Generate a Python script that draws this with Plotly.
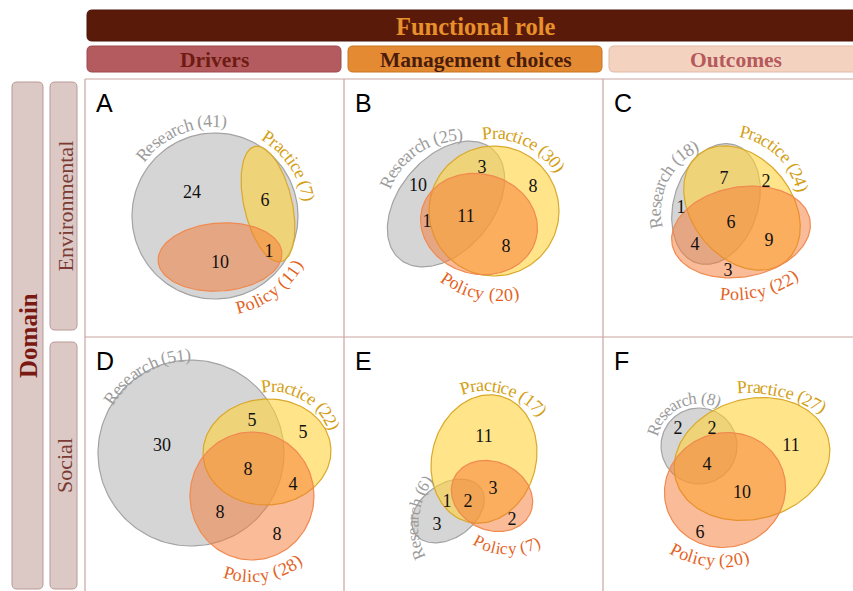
import numpy as np
import plotly.graph_objects as go

# ---------------- DATA ----------------
panel_letters = ["A", "B", "C", "D", "E", "F"]
row_labels = ["Environmental", "Social"]
col_labels = ["Drivers", "Management choices", "Outcomes"]
set_names = ["Research", "Practice", "Policy"]

research_totals = [41, 25, 18, 51, 6, 8]
practice_totals = [7, 30, 24, 22, 17, 27]
policy_totals = [11, 20, 22, 28, 7, 20]

# region order: R only, P only, Pol only, R&P, R&Pol, P&Pol, R&P&Pol
region_keys = ["R", "P", "Pol", "RP", "RPol", "PPol", "RPPol"]
counts_A = [24, None, None, 6, 10, None, 1]
counts_B = [10, 8, None, 3, 1, 8, 11]
counts_C = [1, 2, 3, 7, 4, 9, 6]
counts_D = [30, 5, 8, 5, 8, 4, 8]
counts_E = [3, 11, 2, 1, None, 3, 2]
counts_F = [2, 11, 6, 2, None, 10, 4]
counts = [counts_A, counts_B, counts_C, counts_D, counts_E, counts_F]

# ---------------- GEOMETRY / STYLE (layout only) ----------------
W, H = 853, 591
# ellipses: (cx, cy, a, b, phi_deg) for Research, Practice, Policy
ellipses = [
    [(215, 216, 83, 83, 0), (268, 204, 59, 24, 77), (220, 257, 62, 34, -4)],
    [(446, 204, 72, 47, -50), (494, 211, 65, 65, 0), (479, 224, 59, 50, 15)],
    [(716, 204, 62, 42, -72), (742, 208, 69, 50, 51), (741, 232, 70, 45, -10)],
    [(191, 453, 93, 93, 0), (267, 452, 64, 53, -3), (252, 496, 62, 64, 0)],
    [(448, 511, 40, 27, -35), (484, 459, 65, 52, -75), (492, 496, 42, 34, 25)],
    [(699, 446, 38, 38, 0), (752, 459, 79, 60, -15), (725, 490, 61, 57, -20)],
]
count_pos = [
    {"R": (192, 193), "RP": (265, 201), "RPPol": (269, 252), "RPol": (220, 263)},
    {"R": (418, 186), "RP": (482, 168), "P": (533, 187), "RPol": (427, 222),
     "RPPol": (466, 217), "PPol": (506, 247)},
    {"RP": (724, 179), "P": (766, 182), "R": (681, 208), "RPPol": (731, 223),
     "PPol": (769, 241), "RPol": (695, 245), "Pol": (728, 271)},
    {"R": (162, 446), "RP": (252, 421), "P": (303, 433), "RPPol": (248, 470),
     "PPol": (293, 485), "RPol": (220, 513), "Pol": (277, 535)},
    {"P": (484, 437), "PPol": (493, 489), "RP": (447, 502), "RPPol": (468, 502),
     "R": (437, 525), "Pol": (512, 520)},
    {"R": (678, 429), "RP": (712, 429), "P": (791, 446), "RPPol": (707, 465),
     "PPol": (742, 493), "Pol": (700, 533)},
]
# arc labels: (cx, cy, r, mid_angle_deg, direction, font_size) for Research, Practice, Policy
arcs = [
    [(215, 216, 95, -113, 1, 18), (215, 216, 95, -34, 1, 18), (215, 216, 95, 53, -1, 18)],
    [(460, 215, 80, -124, 1, 18), (494, 211, 78, -65, 1, 18), (500, 200, 95, 103, -1, 18)],
    [(725, 210, 70, 206, 1, 18), (727, 207, 77, -46, 1, 18), (735, 190, 104, 76, -1, 18)],
    [(192, 453, 98, -120, 1, 18), (273, 451, 65, -60, 1, 18), (251, 496, 80, 81, -1, 18)],
    [(489, 525, 76, 186, 1, 17), (484, 459, 74, -73, 1, 18), (509, 485, 64, 92, -1, 17)],
    [(699, 446, 48, -115, 1, 17), (750, 521, 134, -76, 1, 18), (721, 463, 98, 97, -1, 18)],
]
panel_origin = [(85, 79), (344, 79), (603, 79), (85, 337), (344, 337), (603, 337)]

fills = ["rgba(190,190,190,0.65)", "rgba(255,210,60,0.6)", "rgba(245,120,50,0.5)"]
lines = ["#A3A3A3", "#D9A92A", "#F08A50"]
label_colors = ["#9C9C9C", "#D49E12", "#E4621E"]
SERIF = "Liberation Serif"

# Times widths (1/1000 em)
CW = {'R': 667, 'e': 444, 's': 389, 'a': 444, 'r': 333, 'c': 444, 'h': 500, 'P': 556,
      't': 278, 'i': 278, 'o': 500, 'l': 278, 'y': 500, ' ': 250, '(': 333, ')': 333}


def cw(ch):
    return 500 if ch.isdigit() else CW.get(ch, 500)


def ellipse_xy(cx, cy, a, b, phi, n=160):
    t = np.linspace(0, 2 * np.pi, n)
    p = np.radians(phi)
    x = cx + a * np.cos(t) * np.cos(p) - b * np.sin(t) * np.sin(p)
    y = cy + a * np.cos(t) * np.sin(p) + b * np.sin(t) * np.cos(p)
    return x, y


def arc_text(text, cx, cy, r, mid, d, fs, color):
    anns = []
    widths = [cw(ch) * fs / 1000.0 for ch in text]
    total = sum(widths)
    s = -total / 2.0
    for ch, w in zip(text, widths):
        sc = s + w / 2.0
        th = np.radians(mid) + d * sc / r
        x = cx + r * np.cos(th)
        y = cy + r * np.sin(th)
        ang = np.degrees(th) + (90 if d > 0 else -90)
        ang = (ang + 180) % 360 - 180
        s += w
        if ch == " ":
            continue
        anns.append(dict(x=x, y=y, xref="x", yref="y", text=ch, showarrow=False,
                         textangle=ang, xanchor="center", yanchor="middle",
                         font=dict(family=SERIF, size=fs, color=color)))
    return anns


def rrect(x0, y0, x1, y1, r):
    return (f"M{x0+r},{y0} L{x1-r},{y0} Q{x1},{y0} {x1},{y0+r} L{x1},{y1-r} "
            f"Q{x1},{y1} {x1-r},{y1} L{x0+r},{y1} Q{x0},{y1} {x0},{y1-r} "
            f"L{x0},{y0+r} Q{x0},{y0} {x0+r},{y0} Z")


fig = go.Figure()
annotations = []
shapes = []

# grid lines
grid_col = "#C9A5A1"
for (x0, y0, x1, y1) in [(85, 79, 853, 79), (85, 337, 853, 337), (85, 79, 85, 591),
                         (344, 79, 344, 591), (603, 79, 603, 591)]:
    shapes.append(dict(type="line", x0=x0, y0=y0, x1=x1, y1=y1, xref="x", yref="y",
                       line=dict(color=grid_col, width=1.2)))

# header bars: (box, fill, border, text, text colour, font size, text x)
bars = [
    ((87, 10, 862, 41), "#5A1A0A", "#4A1408", "Functional role", "#E8902A", 24.5, 476),
    ((87, 46, 341, 72), "#B45B5F", "#9C4A4E", col_labels[0], "#6E1B12", 21.5, 214),
    ((348, 46, 602, 72), "#E48A32", "#C87424", col_labels[1], "#4A1C0C", 21.5, 476),
    ((609, 46, 862, 72), "#F3D3C0", "#E3B9A3", col_labels[2], "#B5595C", 21.5, 736),
]
for (x0, y0, x1, y1), fc, lc, txt, tc, fs, tx in bars:
    shapes.append(dict(type="path", path=rrect(x0, y0, x1, y1, 5), xref="x", yref="y",
                       fillcolor=fc, line=dict(color=lc, width=1), layer="below"))
    annotations.append(dict(x=tx, y=(y0 + y1) / 2 + 1, xref="x", yref="y", text=f"<b>{txt}</b>",
                            showarrow=False, font=dict(family=SERIF, size=fs, color=tc)))

# left bars
left = [
    ((12, 82, 43, 589), "<b>Domain</b>", "#7A1812", 25),
    ((50, 82, 77, 330), row_labels[0], "#7B3B33", 22),
    ((50, 342, 77, 589), row_labels[1], "#7B3B33", 22),
]
for (x0, y0, x1, y1), txt, tc, fs in left:
    shapes.append(dict(type="path", path=rrect(x0, y0, x1, y1, 5), xref="x", yref="y",
                       fillcolor="#DCC9C6", line=dict(color="#B89A97", width=1), layer="below"))
    annotations.append(dict(x=(x0 + x1) / 2 + 1, y=(y0 + y1) / 2, xref="x", yref="y", text=txt,
                            textangle=-90, showarrow=False,
                            font=dict(family=SERIF, size=fs, color=tc)))

# venns
totals = list(zip(research_totals, practice_totals, policy_totals))
for i in range(6):
    for k in range(3):
        cx, cy, a, b, phi = ellipses[i][k]
        x, y = ellipse_xy(cx, cy, a, b, phi)
        fig.add_trace(go.Scatter(x=x, y=y, mode="lines", fill="toself",
                                 fillcolor=fills[k], line=dict(color=lines[k], width=1.2),
                                 hoverinfo="skip", showlegend=False))
    xs, ys, ts = [], [], []
    for key, val in zip(region_keys, counts[i]):
        if val is None:
            continue
        px, py = count_pos[i][key]
        xs.append(px); ys.append(py); ts.append(str(val))
    fig.add_trace(go.Scatter(x=xs, y=ys, text=ts, mode="text",
                             textfont=dict(family=SERIF, size=18, color="#111111"),
                             hoverinfo="skip", showlegend=False))
    for k in range(3):
        cx, cy, r, mid, d, fs = arcs[i][k]
        annotations += arc_text(f"{set_names[k]} ({totals[i][k]})", cx, cy, r, mid, d, fs,
                                label_colors[k])
    ox, oy = panel_origin[i]
    annotations.append(dict(x=ox + 9, y=oy + 24, xref="x", yref="y", text=panel_letters[i],
                            showarrow=False, xanchor="left", yanchor="middle",
                            font=dict(family="Liberation Sans", size=25, color="#000000")))

fig.update_layout(
    width=W, height=H, margin=dict(l=0, r=0, t=0, b=0),
    paper_bgcolor="white", plot_bgcolor="white",
    xaxis=dict(range=[0, W], visible=False, fixedrange=True),
    yaxis=dict(range=[H, 0], visible=False, fixedrange=True),
    shapes=shapes, annotations=annotations,
)
fig.write_html("out.html", config={"displayModeBar": False},
               post_script="document.body.style.margin='0';document.body.style.overflow='hidden';")
